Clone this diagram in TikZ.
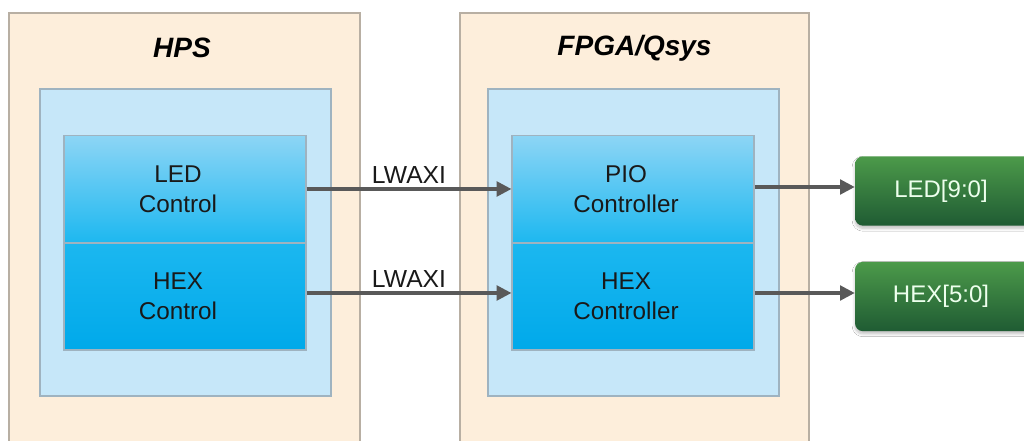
\documentclass[tikz,border=0pt]{standalone}
\usepackage{fontspec}
\setmainfont{Liberation Sans}
\usetikzlibrary{arrows.meta,shadows.blur}
\definecolor{peach}{HTML}{FDEEDB}
\definecolor{peachline}{HTML}{B8AFA3}
\definecolor{lblue}{HTML}{C6E7F9}
\definecolor{lblueline}{HTML}{9FB3C0}
\definecolor{btop}{HTML}{8DD5F5}
\definecolor{bmid}{HTML}{1DB8F0}
\definecolor{bbot}{HTML}{00A9EA}
\definecolor{gtop}{HTML}{4C9A4A}
\definecolor{gbot}{HTML}{1F5B33}
\definecolor{arrowc}{HTML}{595959}
\tikzset{
  outerbox/.style={draw=peachline, fill=peach, line width=0.9pt},
  innerbox/.style={draw=lblueline, fill=lblue, line width=0.9pt},
  title/.style={font=\fontsize{21}{24}\selectfont\bfseries\itshape},
  ctrltext/.style={align=center, font=\fontsize{18.2}{22.5}\selectfont, text=black!90, inner sep=0pt, xshift=-5.25pt},
  ctrl/.style={draw=lblueline, line width=0.9pt, minimum width=181.5pt, minimum height=80.25pt, inner sep=0pt},
  upper/.style={ctrl, top color=btop, bottom color=bmid},
  lower/.style={ctrl, top color=bmid!95!bbot, bottom color=bbot},
  pin/.style={rounded corners=6pt, top color=gtop, bottom color=gbot, draw=none, minimum width=135pt, minimum height=52pt, inner sep=0pt, blur shadow={shadow xshift=0pt, shadow yshift=-2pt, shadow blur steps=6, shadow opacity=25}},
  pintext/.style={text=white!93!green, font=\fontsize{18}{20}\selectfont, inner sep=0pt, xshift=-3pt},
  conn/.style={draw=arrowc, line width=2.3pt, -{Triangle[length=11pt,width=11pt]}},
  lbl/.style={font=\fontsize{18.5}{20}\selectfont, text=black!90}
}
\begin{document}
\begin{tikzpicture}[x=0.75pt,y=-0.75pt]
\useasboundingbox (0,0) rectangle (1024,441);
\clip (0,0) rectangle (1024,441);
\fill[white] (0,0) rectangle (1024,441);
% outer boxes
\draw[outerbox] (9,13) rectangle (360,460);
\draw[outerbox] (460,13) rectangle (809,460);
\node[title] (thps) at (182,48) {HPS};
\node[title] (tfpga) at (634.5,48) {FPGA/Qsys};
% inner boxes
\draw[innerbox] (40,89) rectangle (331,396);
\draw[innerbox] (488,89) rectangle (779,396);
% control blocks
\node[upper, label={[ctrltext]center:{LED\\Control}}] (ledc) at (185,189) {};
\node[lower, label={[ctrltext]center:{HEX\\Control}}] (hexc) at (185,296.5) {};
\node[upper, label={[ctrltext]center:{PIO\\Controller}}] (pio) at (633,189) {};
\node[lower, label={[ctrltext]center:{HEX\\Controller}}] (hexctl) at (633,296.5) {};
% pins
\node[pin, label={[pintext]center:LED[9:0]}] (ledp) at (945,191) {};
\node[pin, label={[pintext]center:HEX[5:0]}] (hexp) at (945,296.5) {};
% connectors
\draw[conn] (ledc.east |- 0,189) -- node[lbl, above=0pt] {LWAXI} (pio.west |- 0,189);
\draw[conn] (hexc.east |- 0,293) -- node[lbl, above=0pt] {LWAXI} (hexctl.west |- 0,293);
\draw[conn] (pio.east |- 0,187) -- (ledp.west |- 0,187);
\draw[conn] (hexctl.east |- 0,293) -- (hexp.west |- 0,293);
\end{tikzpicture}
\end{document}
